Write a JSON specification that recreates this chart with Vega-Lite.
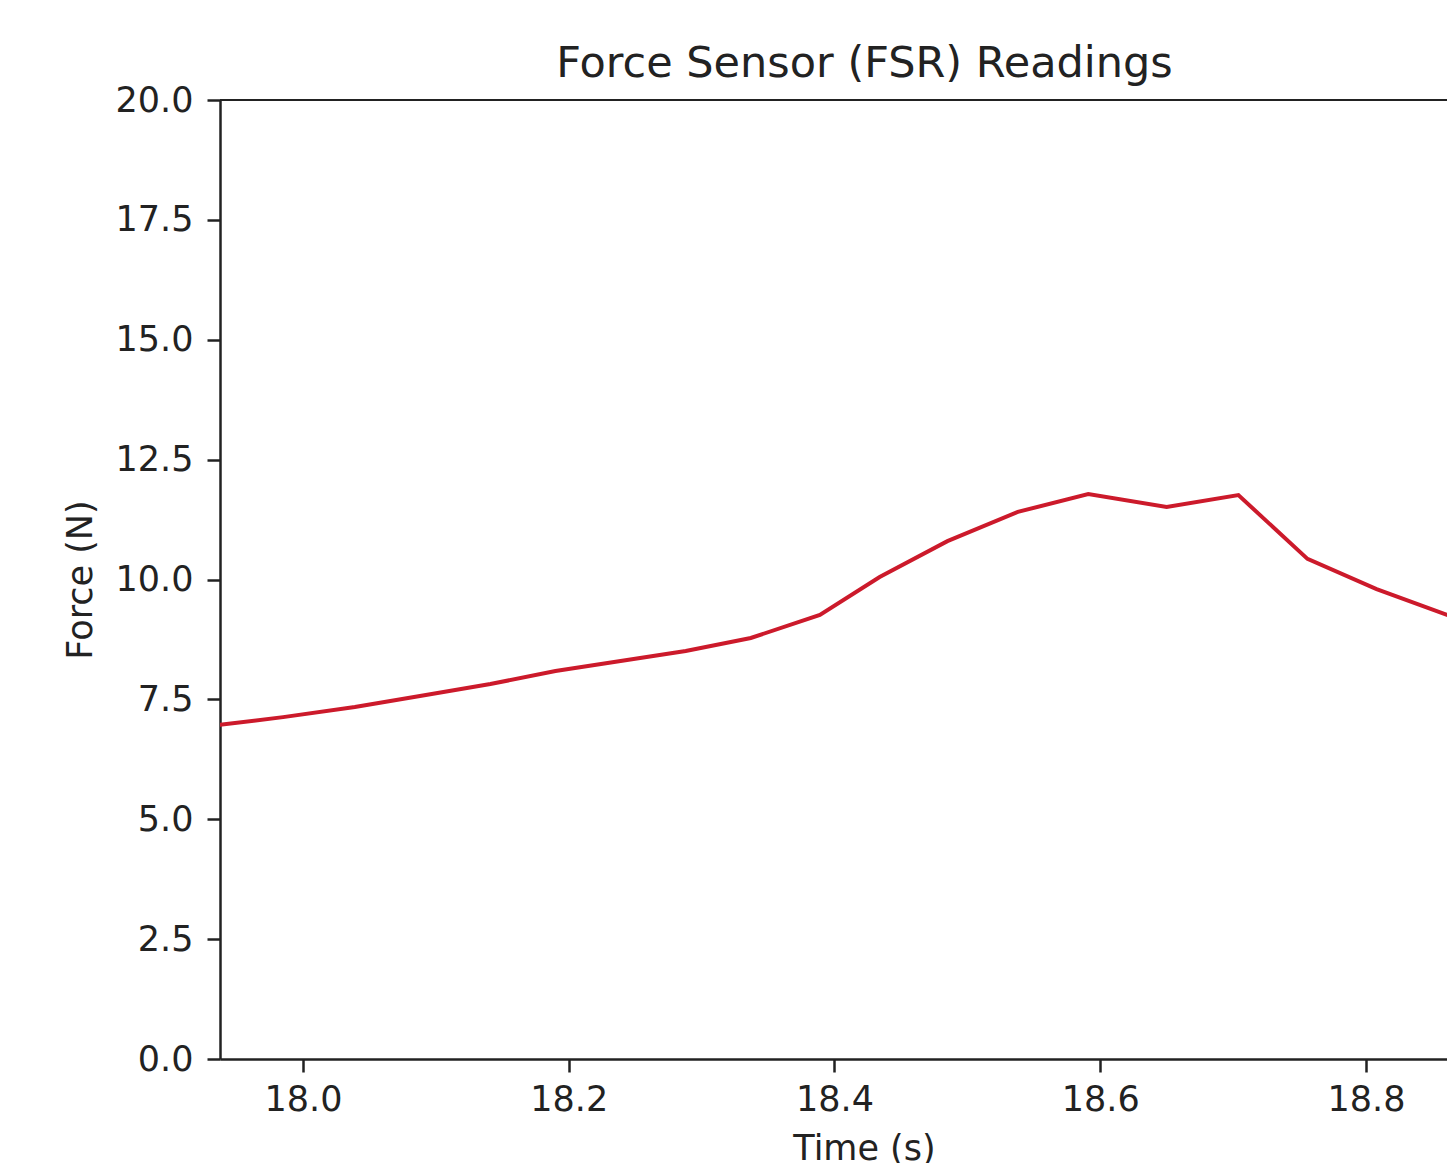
{
  "$schema": "https://vega.github.io/schema/vega-lite/v6.json",
  "width": 1227,
  "height": 959,
  "autosize": {"type": "none"},
  "padding": {"left": 220, "top": 100, "right": 0, "bottom": 104},
  "background": "white",
  "title": {
    "text": "Force Sensor (FSR) Readings",
    "font": "DejaVu Sans",
    "fontSize": 43,
    "fontWeight": "normal",
    "color": "#222",
    "anchor": "middle",
    "dx": 31,
    "dy": 58,
    "baseline": "alphabetic",
    "offset": 21
  },
  "data": {
    "values": [
      {"t": 17.93, "force": 6.93},
      {"t": 17.9375, "force": 6.97},
      {"t": 17.985, "force": 7.13},
      {"t": 18.039, "force": 7.34},
      {"t": 18.088, "force": 7.57},
      {"t": 18.141, "force": 7.82},
      {"t": 18.190, "force": 8.09},
      {"t": 18.239, "force": 8.30},
      {"t": 18.288, "force": 8.51},
      {"t": 18.337, "force": 8.78},
      {"t": 18.389, "force": 9.26},
      {"t": 18.434, "force": 10.05},
      {"t": 18.485, "force": 10.80},
      {"t": 18.538, "force": 11.41},
      {"t": 18.591, "force": 11.78},
      {"t": 18.650, "force": 11.51},
      {"t": 18.704, "force": 11.76},
      {"t": 18.756, "force": 10.43},
      {"t": 18.808, "force": 9.80},
      {"t": 18.861, "force": 9.26},
      {"t": 18.91, "force": 8.8}
    ]
  },
  "layer": [
    {
      "mark": {"type": "line", "color": "#cc1a2b", "strokeWidth": 4, "clip": true},
      "encoding": {
        "x": {
          "field": "t",
          "type": "quantitative",
          "scale": {"domain": [17.9375, 18.861], "nice": false, "zero": false},
          "axis": {
            "values": [18.0, 18.2, 18.4, 18.6, 18.8],
            "format": ".1f",
            "title": "Time (s)",
            "titleX": 644,
            "titleY": 72,
            "titleAlign": "center",
            "titleBaseline": "top",
            "titleAnchor": null,
            "labelPadding": 10,
            "tickSize": 13
          }
        },
        "y": {
          "field": "force",
          "type": "quantitative",
          "scale": {"domain": [0, 20], "nice": false},
          "axis": {
            "values": [0, 2.5, 5, 7.5, 10, 12.5, 15, 17.5, 20],
            "format": ".1f",
            "title": "Force (N)",
            "titleX": -140,
            "titleY": 479.5,
            "titleAngle": -90,
            "titleAlign": "center",
            "titleBaseline": "middle",
            "titleAnchor": null,
            "labelPadding": 14,
            "tickSize": 13
          }
        }
      }
    },
    {
      "mark": {"type": "rule", "color": "#222", "strokeWidth": 2.2},
      "encoding": {"y": {"datum": 20}}
    }
  ],
  "config": {
    "view": {"stroke": null},
    "axis": {
      "grid": false,
      "domainColor": "#222",
      "domainWidth": 2.5,
      "tickColor": "#222",
      "tickWidth": 2.5,
      "labelFont": "DejaVu Sans",
      "labelFontSize": 35,
      "labelColor": "#222",
      "titleFont": "DejaVu Sans",
      "titleFontSize": 35,
      "titleFontWeight": "normal",
      "titleColor": "#222",
      "labelFlush": false,
      "labelOverlap": false
    }
  }
}
